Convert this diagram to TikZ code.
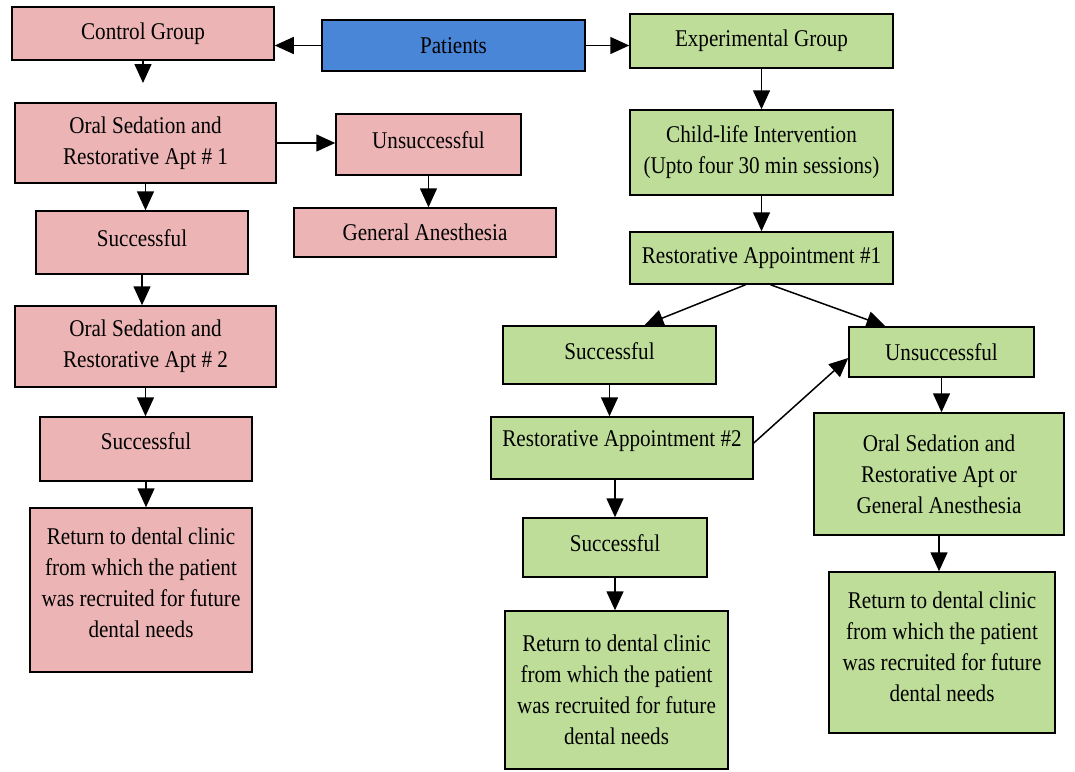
\documentclass[tikz,border=0pt]{standalone}
\usepackage{fontspec}
\setmainfont[FakeStretch=0.88]{Liberation Serif}
\usepackage{tikz}
\usetikzlibrary{arrows.meta, calc}
\usepackage{xcolor}

\definecolor{ctrlpink}{RGB}{236,180,181}
\definecolor{expgreen}{RGB}{190,221,152}
\definecolor{patblue}{RGB}{74,134,216}

\begin{document}
\begin{tikzpicture}[x=1pt, y=-1pt,
    box/.style={draw, line width=1.5pt, align=center, inner sep=0pt,
                font=\fontsize{24}{31}\selectfont},
    ctrlbox/.style={box, fill=ctrlpink},
    expbox/.style={box, fill=expgreen},
    lift/.style={text depth=#1},
    arr/.style={-{Triangle[length=19pt, width=17pt]}, line width=1.5pt}]

    \useasboundingbox (0,0) rectangle (1075,771);

    % Patients
    \node[box, fill=patblue, minimum width=263pt, minimum height=51pt] (pat) at (453.5,45.5) {Patients};

    % ---- Control group ----
    \node[ctrlbox, minimum width=262pt, minimum height=53pt] (ctrl) at (143,33.5) {Control Group};
    \coordinate (ctrlend) at (143,83);
    \node[ctrlbox, minimum width=261pt, minimum height=80pt] (oral1) at (145.5,143) {Oral Sedation and\\Restorative Apt \# 1};
    \node[ctrlbox, lift=8pt, minimum width=185pt, minimum height=61pt] (unsc) at (428.5,144.5) {Unsuccessful};
    \node[ctrlbox, minimum width=262pt, minimum height=49pt] (ga) at (425,232.5) {General Anesthesia};
    \node[ctrlbox, lift=8pt, minimum width=212pt, minimum height=63pt] (succ1) at (142,242.5) {Successful};
    \node[ctrlbox, minimum width=261pt, minimum height=81pt] (oral2) at (145.5,346.5) {Oral Sedation and\\Restorative Apt \# 2};
    \node[ctrlbox, lift=16pt, minimum width=212pt, minimum height=64pt] (succ2) at (146,449) {Successful};
    \node[ctrlbox, lift=14pt, minimum width=222pt, minimum height=164pt] (ret1) at (141,590)
        {Return to dental clinic\\from which the patient\\was recruited for future\\dental needs};

    % ---- Experimental group ----
    \node[expbox, minimum width=263pt, minimum height=54pt] (exp) at (761.5,41) {Experimental Group};
    \node[expbox, minimum width=263pt, minimum height=85pt] (child) at (761.5,152.5) {Child-life Intervention\\(Upto four 30 min sessions)};
    \node[expbox, minimum width=263pt, minimum height=52pt] (rest1) at (761.5,258) {Restorative Appointment \#1};
    \node[expbox, lift=8pt, minimum width=213pt, minimum height=58pt] (succe) at (609.5,355) {Successful};
    \node[expbox, minimum width=185pt, minimum height=50pt] (unse) at (941.5,352) {Unsuccessful};
    \node[expbox, lift=18pt, minimum width=262pt, minimum height=62pt] (rest2) at (622,448) {Restorative Appointment \#2};
    \node[expbox, minimum width=250pt, minimum height=122pt] (orga) at (939,474) {Oral Sedation and\\Restorative Apt or\\General Anesthesia};
    \node[expbox, lift=8pt, minimum width=184pt, minimum height=59pt] (succ3) at (615,547.5) {Successful};
    \node[expbox, minimum width=223pt, minimum height=158pt] (ret2) at (616.5,690)
        {Return to dental clinic\\from which the patient\\was recruited for future\\dental needs};
    \node[expbox, lift=12pt, minimum width=226pt, minimum height=161pt] (ret3) at (942,652.5)
        {Return to dental clinic\\from which the patient\\was recruited for future\\dental needs};

    % Arrows
    \draw[arr] (pat.west) -- (ctrl.east |- pat.west);
    \draw[arr] (pat.east) -- (exp.west |- pat.east);
    \draw[arr] (ctrl.south) -- (ctrlend);
    \draw[arr] (oral1.east) -- (oral1.east -| unsc.west);
    \draw[arr] (unsc.south) -- (unsc.south |- ga.north);
    \draw[arr] (oral1.south) -- (oral1.south |- succ1.north);
    \draw[arr] (succ1.south) -- (succ1.south |- oral2.north);
    \draw[arr] (oral2.south) -- (oral2.south |- succ2.north);
    \draw[arr] (succ2.south) -- (succ2.south |- ret1.north);

    \draw[arr] (exp.south) -- (child.north);
    \draw[arr] (child.south) -- (rest1.north);
    \draw[arr] ([xshift=-16pt]rest1.south) -- ([xshift=35pt]succe.north);
    \draw[arr] ([xshift=9pt]rest1.south) -- ([xshift=-56pt]unse.north);
    \draw[arr] (succe.south) -- (succe.south |- rest2.north);
    \draw[arr] ([yshift=5pt]rest2.east) -- ([yshift=-6pt]unse.west);
    \draw[arr] (succ3.north |- rest2.south) -- (succ3.north);
    \draw[arr] (succ3.south) -- (succ3.south |- ret2.north);
    \draw[arr] (unse.south) -- (unse.south |- orga.north);
    \draw[arr] (orga.south) -- (orga.south |- ret3.north);
\end{tikzpicture}
\end{document}
